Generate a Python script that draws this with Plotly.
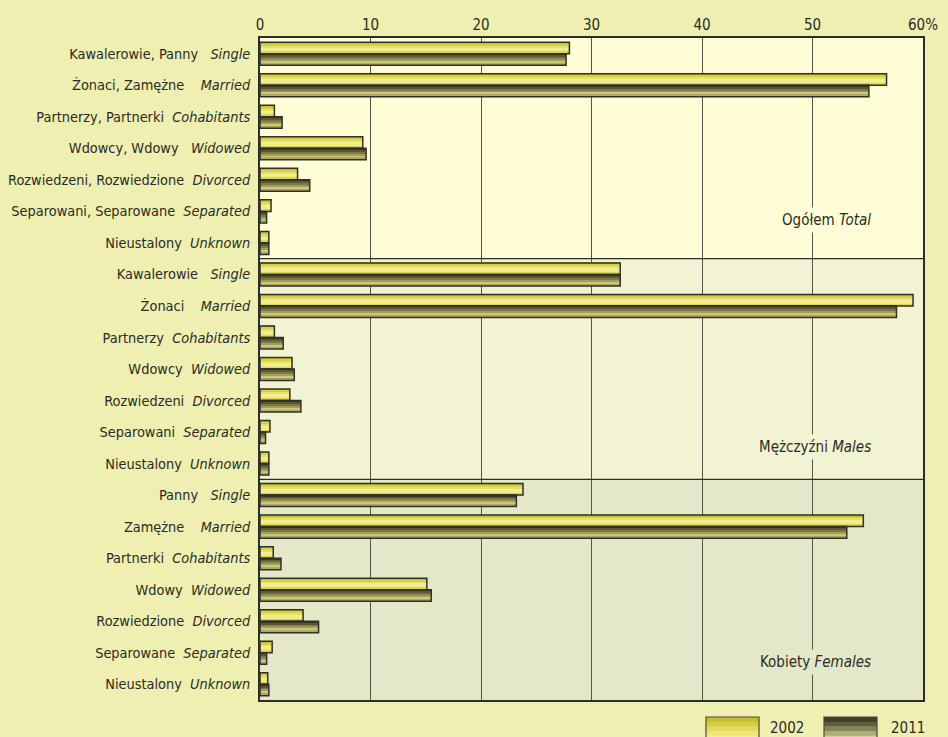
import plotly.graph_objects as go

# ---------------- data ----------------
labels_pl = [
    "Kawalerowie, Panny", "Żonaci, Zamężne", "Partnerzy, Partnerki", "Wdowcy, Wdowy",
    "Rozwiedzeni, Rozwiedzione", "Separowani, Separowane", "Nieustalony",
    "Kawalerowie", "Żonaci", "Partnerzy", "Wdowcy", "Rozwiedzeni", "Separowani", "Nieustalony",
    "Panny", "Zamężne", "Partnerki", "Wdowy", "Rozwiedzione", "Separowane", "Nieustalony",
]
labels_en = ["Single", "Married", "Cohabitants", "Widowed", "Divorced", "Separated", "Unknown"] * 3
label_gap = [2, 3, 1, 2, 1, 1, 1, 2, 3, 1, 1, 1, 1, 1, 2, 3, 1, 1, 1, 1, 1]

v2002 = [28.0, 56.7, 1.3, 9.3, 3.4, 1.0, 0.8,
         32.6, 59.1, 1.3, 2.9, 2.7, 0.9, 0.8,
         23.8, 54.6, 1.2, 15.1, 3.9, 1.1, 0.7]
v2011 = [27.7, 55.1, 2.0, 9.6, 4.5, 0.6, 0.8,
         32.6, 57.6, 2.1, 3.1, 3.7, 0.5, 0.8,
         23.2, 53.1, 1.9, 15.5, 5.3, 0.6, 0.8]

groups = ["Ogółem <i>Total</i>", "Mężczyźni <i>Males</i>", "Kobiety <i>Females</i>"]
years = ["2002", "2011"]
x_ticks = [0, 10, 20, 30, 40, 50, 60]
x_ticktext = ["0", "10", "20", "30", "40", "50", "60%"]

# ---------------- style ----------------
FONT = "DejaVu Sans Condensed, Liberation Sans Narrow, sans-serif"
FS = 15
FS_TICK = 14.4
TXT = "#2b2b26"
OUTER_BG = "#EEEFB1"
PANEL_BG = ["#FFFDD6", "#F1F3D3", "#E5E8C8"]
GRAD_2002 = ["#C8BE2C", "#D8D044", "#E6E06A", "#F2EE92", "#F0EB88", "#DCD452"]
GRAD_2011 = ["#363622", "#5A5832", "#7C7A42", "#A29E5A", "#CCC67E", "#ADA862"]
LEG_2002 = ["#C8BE2C", "#D4CC40", "#E2DA5E", "#ECE67C", "#F2EE96", "#F6F2A4"]
LEG_2011 = ["#3E3E2A", "#5E5E3E", "#858358", "#AEAC78", "#D4D098", "#E8E4AC"]
OUTLINE = "#30302a"
H = 0.365  # bar thickness (category units)

ypos = list(range(len(v2002)))
ticktext = [pl + "\u00a0" * (g + 1) + "<i>" + en + "</i>"
            for pl, en, g in zip(labels_pl, labels_en, label_gap)]

fig = go.Figure()

def add_series(vals, grad, start, name):
    n = len(grad)
    w = H / n
    for k, c in enumerate(grad):
        fig.add_trace(go.Bar(
            x=vals, y=ypos, orientation="h", base=0,
            width=w * 1.02, offset=start + k * w,
            marker=dict(color=c, line=dict(width=0)),
            name=name, showlegend=False, hoverinfo="x",
        ))
    fig.add_trace(go.Bar(
        x=vals, y=ypos, orientation="h", base=0,
        width=H, offset=start,
        marker=dict(color="rgba(0,0,0,0)", line=dict(color=OUTLINE, width=1.5)),
        name=name, showlegend=False, hoverinfo="skip",
    ))

add_series(v2002, GRAD_2002, -H, years[0])
add_series(v2011, GRAD_2011, 0.0, years[1])

# panel backgrounds
shapes = []
n_per = 7
for gi in range(3):
    y0 = gi * n_per - 0.5
    y1 = y0 + n_per
    shapes.append(dict(type="rect", xref="x", yref="y", x0=0, x1=60, y0=y0, y1=y1,
                       fillcolor=PANEL_BG[gi], line=dict(width=0), layer="below"))
for gi in (1, 2):
    yb = gi * n_per - 0.5
    shapes.append(dict(type="line", xref="x", yref="y", x0=0, x1=60, y0=yb, y1=yb,
                       line=dict(color="#2e2e28", width=1.4), layer="above"))

# legend (drawn as boxes + text below the plot)
def px2paper_x(px):
    return (px - 260) / 663.0

def px2paper_y(py):
    return (700 - py) / 662.0

leg_boxes = [(706, 759, LEG_2002), (824, 877, LEG_2011)]
leg_text_x = [787, 908]
for (xa, xb, cols) in leg_boxes:
    top, bot = 717, 745
    step = (bot - top) / len(cols)
    for k, c in enumerate(cols):
        shapes.append(dict(type="rect", xref="paper", yref="paper",
                           x0=px2paper_x(xa), x1=px2paper_x(xb),
                           y0=px2paper_y(top + (k + 1) * step + 0.3), y1=px2paper_y(top + k * step),
                           fillcolor=c, line=dict(width=0), layer="above"))
    shapes.append(dict(type="rect", xref="paper", yref="paper",
                       x0=px2paper_x(xa), x1=px2paper_x(xb),
                       y0=px2paper_y(bot), y1=px2paper_y(top),
                       fillcolor="rgba(0,0,0,0)", line=dict(color="#4a4a38", width=1.2),
                       layer="above"))

annotations = []
for xt, yr in zip(leg_text_x, years):
    annotations.append(dict(xref="paper", yref="paper", x=px2paper_x(xt), y=px2paper_y(728),
                            text=yr, showarrow=False, xanchor="center", yanchor="middle",
                            font=dict(family=FONT, size=FS, color=TXT)))

group_label_y = [5.26, 12.48, 19.3]
for gi, (g, yy) in enumerate(zip(groups, group_label_y)):
    annotations.append(dict(xref="x", yref="y", x=55.7, y=yy, text=g, showarrow=False,
                            xanchor="right", yanchor="middle", bgcolor=PANEL_BG[gi],
                            borderpad=3,
                            font=dict(family=FONT, size=FS, color=TXT)))

fig.update_layout(
    width=948, height=737,
    margin=dict(l=260, r=25, t=38, b=37),
    paper_bgcolor=OUTER_BG, plot_bgcolor=OUTER_BG,
    barmode="overlay",
    showlegend=False,
    shapes=shapes,
    annotations=annotations,
    font=dict(family=FONT, size=FS, color=TXT),
    xaxis=dict(
        side="top", range=[0, 60], tickvals=x_ticks, ticktext=x_ticktext,
        showgrid=True, gridcolor="#555549", gridwidth=1.4, zeroline=False,
        showline=True, linecolor="#2e2e28", linewidth=1.6, mirror=True,
        ticks="", tickfont=dict(family=FONT, size=FS, color=TXT),
        fixedrange=True, automargin=False,
    ),
    yaxis=dict(
        range=[20.5, -0.5], tickvals=ypos, ticktext=ticktext,
        showgrid=False, zeroline=False,
        showline=True, linecolor="#2e2e28", linewidth=1.8, mirror=True,
        ticks="", ticklabelstandoff=5,
        tickfont=dict(family=FONT, size=FS_TICK, color=TXT),
        fixedrange=True, automargin=False,
    ),
)

fig.write_html(
    "out.html",
    config={"displayModeBar": False},
    post_script="document.body.style.margin='0';document.body.style.background='" + OUTER_BG + "';",
)
